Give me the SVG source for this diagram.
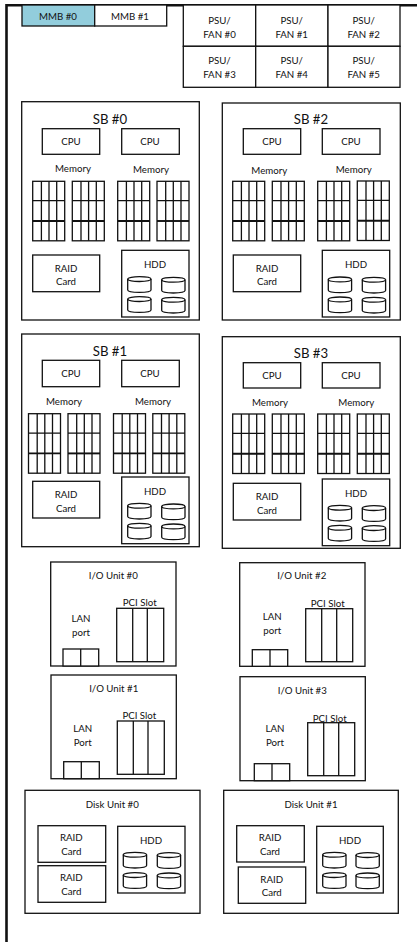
<svg xmlns="http://www.w3.org/2000/svg" width="417" height="942" viewBox="0 0 417 942">
<style>
rect,path{fill:#fff;stroke:#111;stroke-width:1.3}
.f{fill:none}
text{font-family:"Lato","Liberation Sans",sans-serif;font-size:9.7px;fill:#111;text-anchor:middle}
.h{font-size:13.2px}
.th{stroke-width:1.9;fill:none}
.th2{stroke-width:1.3;fill:none}
</style>
<defs>
<g id="mem">
<rect width="32" height="59.5"/>
<path class="th2" d="M8.7 0V59.5M16.3 0V59.5M24 0V59.5M0 19.4H32"/>
<path class="th" d="M0 39.7H32"/>
</g>
<g id="cyl">
<path d="M0 2.4C0 -.8 23.3 -.8 23.3 2.4V13.3C23.3 16.5 0 16.5 0 13.3Z"/>
<path class="f" d="M0 2.4C0 5.6 23.3 5.6 23.3 2.4"/>
</g>
</defs>
<rect width="417" height="942" style="fill:#fff;stroke:none"/>
<g id="chassis"><path class="f" d="M417 5.3H6.5V942" style="stroke-width:2.6"/></g>
<g id="mmb-0"><rect x="22" y="5" width="72.7" height="21" style="fill:#92cddc"/><text x="58" y="20">MMB #0</text></g>
<g id="mmb-1"><rect x="94.7" y="5" width="72" height="21"/><text x="130" y="20">MMB #1</text></g>
<g id="psu-0"><rect x="183.3" y="5" width="72.4" height="41.3"/><text x="219.5" y="23.5">PSU/</text><text x="219.5" y="37.5">FAN #0</text></g>
<g id="psu-1"><rect x="255.7" y="5" width="72.3" height="41.3"/><text x="291.7" y="23.5">PSU/</text><text x="291.7" y="37.5">FAN #1</text></g>
<g id="psu-2"><rect x="328" y="5" width="72" height="41.3"/><text x="363.7" y="23.5">PSU/</text><text x="363.7" y="37.5">FAN #2</text></g>
<g id="psu-3"><rect x="183.3" y="46.3" width="72.4" height="41"/><text x="219.5" y="64">PSU/</text><text x="219.5" y="78">FAN #3</text></g>
<g id="psu-4"><rect x="255.7" y="46.3" width="72.3" height="41"/><text x="291.7" y="64">PSU/</text><text x="291.7" y="78">FAN #4</text></g>
<g id="psu-5"><rect x="328" y="46.3" width="72" height="41"/><text x="363.7" y="64">PSU/</text><text x="363.7" y="78">FAN #5</text></g>

<g id="sb-0">
<rect x="21.7" y="101.7" width="177.6" height="218.3"/>
<text class="h" x="110" y="123.5">SB #0</text>
<rect x="42.3" y="128.7" width="57.4" height="25.6"/><text x="71" y="145">CPU</text>
<rect x="121.7" y="128.7" width="57.6" height="25.6"/><text x="150" y="145">CPU</text>
<text x="73" y="172">Memory</text><text x="151" y="173">Memory</text>
<use href="#mem" x="32.7" y="181.3"/><use href="#mem" x="72.3" y="181.3"/><use href="#mem" x="117.7" y="181.3"/><use href="#mem" x="157" y="181.3"/>
<rect x="32.7" y="255" width="67" height="36.7"/><text x="66" y="271.5">RAID</text><text x="66" y="285">Card</text>
<rect x="121.7" y="250.3" width="67.3" height="66.7"/><text x="155" y="267.5">HDD</text>
<use href="#cyl" x="127.7" y="276.7"/><use href="#cyl" x="161.7" y="277.3"/><use href="#cyl" x="127.7" y="296.7"/><use href="#cyl" x="161.7" y="297.3"/>
</g>

<g id="sb-2">
<rect x="222.3" y="103" width="178" height="217"/>
<text class="h" x="311" y="123.5">SB #2</text>
<rect x="243.3" y="128.7" width="57.4" height="25.6"/><text x="272" y="145">CPU</text>
<rect x="322.3" y="128.7" width="57.7" height="25.6"/><text x="351" y="145">CPU</text>
<text x="269.3" y="174">Memory</text><text x="353.7" y="173">Memory</text>
<use href="#mem" x="232.7" y="181.3"/><use href="#mem" x="272.3" y="181.3"/><use href="#mem" x="317.7" y="181.3"/><use href="#mem" x="357.3" y="181"/>
<rect x="233.3" y="255" width="67.4" height="36.7"/><text x="267" y="271.5">RAID</text><text x="267" y="285">Card</text>
<rect x="322.3" y="250.3" width="67.4" height="66.7"/><text x="356" y="267.5">HDD</text>
<use href="#cyl" x="328.3" y="277"/><use href="#cyl" x="362.3" y="277.3"/><use href="#cyl" x="328.3" y="297"/><use href="#cyl" x="362.3" y="297.3"/>
</g>

<g id="sb-1">
<rect x="21.7" y="334" width="177.6" height="212.7"/>
<text class="h" x="110" y="356">SB #1</text>
<rect x="42.3" y="360.3" width="57.4" height="26.4"/><text x="71" y="377">CPU</text>
<rect x="121.7" y="360.3" width="57.6" height="26.4"/><text x="150" y="377">CPU</text>
<text x="64" y="404.5">Memory</text><text x="153" y="404.5">Memory</text>
<use href="#mem" x="28.5" y="413.7"/><use href="#mem" x="68" y="413.7"/><use href="#mem" x="113.5" y="413.7"/><use href="#mem" x="152.8" y="413.7"/>
<rect x="32.7" y="481.3" width="67" height="36.7"/><text x="66" y="497.5">RAID</text><text x="66" y="511.5">Card</text>
<rect x="121.7" y="477" width="67.3" height="66.7"/><text x="155" y="494.5">HDD</text>
<use href="#cyl" x="127.7" y="503.3"/><use href="#cyl" x="161.7" y="504"/><use href="#cyl" x="127.7" y="523.3"/><use href="#cyl" x="161.7" y="524"/>
</g>

<g id="sb-3">
<rect x="222.3" y="336.7" width="178" height="211.6"/>
<text class="h" x="311" y="357.5">SB #3</text>
<rect x="243.3" y="362.7" width="57.4" height="25.3"/><text x="272" y="379">CPU</text>
<rect x="322.3" y="362.7" width="57.7" height="25.3"/><text x="351" y="379">CPU</text>
<text x="270" y="405.5">Memory</text><text x="356.3" y="405.5">Memory</text>
<use href="#mem" x="232.7" y="414"/><use href="#mem" x="272.3" y="414"/><use href="#mem" x="317.7" y="414"/><use href="#mem" x="357.3" y="414"/>
<rect x="233.3" y="483.3" width="67.4" height="36.7"/><text x="267" y="499.5">RAID</text><text x="267" y="513.5">Card</text>
<rect x="322.3" y="479" width="67.4" height="66.7"/><text x="356" y="496.5">HDD</text>
<use href="#cyl" x="328.3" y="505.3"/><use href="#cyl" x="362.3" y="505.7"/><use href="#cyl" x="328.3" y="525.3"/><use href="#cyl" x="362.3" y="525.7"/>
</g>

<g id="io-0">
<rect x="50.7" y="562" width="125.3" height="104"/>
<text x="113.3" y="579">I/O Unit #0</text>
<text x="139.7" y="606">PCI Slot</text>
<rect x="116.7" y="608.3" width="47" height="53.4"/><path class="f" d="M132.7 608.3V661.7M147.3 608.3V661.7"/>
<text x="81" y="622">LAN</text><text x="81" y="636">port</text>
<rect x="63" y="649" width="35.7" height="17"/><path class="f" d="M80.7 649V666"/>
</g>
<g id="io-1">
<rect x="51" y="675" width="125.3" height="103.7"/>
<text x="113.7" y="692">I/O Unit #1</text>
<text x="139.3" y="719">PCI Slot</text>
<rect x="117.3" y="721" width="47" height="53.3"/><path class="f" d="M133.3 721V774.3M148 721V774.3"/>
<text x="82.7" y="732">LAN</text><text x="82.7" y="746">Port</text>
<rect x="63.7" y="761.7" width="35.6" height="17"/><path class="f" d="M81.3 761.7V778.7"/>
</g>
<g id="io-2">
<rect x="239.7" y="562.7" width="125.3" height="103.6"/>
<text x="301.7" y="579">I/O Unit #2</text>
<text x="327.7" y="607">PCI Slot</text>
<rect x="305.7" y="608.7" width="47" height="53"/><path class="f" d="M321.7 608.7V661.7M336.7 608.7V661.7"/>
<text x="272.3" y="620">LAN</text><text x="272.3" y="634">port</text>
<rect x="252.3" y="649.7" width="35.4" height="16.6"/><path class="f" d="M270 649.7V666.3"/>
</g>
<g id="io-3">
<rect x="240" y="676.7" width="125.3" height="104"/>
<text x="302.3" y="693.5">I/O Unit #3</text>
<text x="329.7" y="722">PCI Slot</text>
<rect x="307.7" y="722.7" width="47" height="53"/><path class="f" d="M323.7 722.7V775.7M338.7 722.7V775.7"/>
<text x="275" y="732">LAN</text><text x="275" y="746">Port</text>
<rect x="254.3" y="763.7" width="35.4" height="17"/><path class="f" d="M272 763.7V780.7"/>
</g>

<g id="disk-0">
<rect x="25" y="790.3" width="175" height="123"/>
<text x="112.3" y="808">Disk Unit #0</text>
<rect x="38" y="825.7" width="67.7" height="36.6"/><text x="71.3" y="841">RAID</text><text x="71.3" y="855">Card</text>
<rect x="38" y="865.7" width="67.7" height="36.6"/><text x="71.3" y="881">RAID</text><text x="71.3" y="895">Card</text>
<rect x="117.7" y="826.3" width="67.3" height="66.7"/><text x="151" y="844">HDD</text>
<use href="#cyl" x="123.3" y="852.3"/><use href="#cyl" x="157.3" y="852.7"/><use href="#cyl" x="123.3" y="872.7"/><use href="#cyl" x="157.3" y="873"/>
</g>
<g id="disk-1">
<rect x="223.7" y="790.3" width="174.6" height="123"/>
<text x="311" y="808">Disk Unit #1</text>
<rect x="236.7" y="825.7" width="67.6" height="36.3"/><text x="270" y="841">RAID</text><text x="270" y="855">Card</text>
<rect x="238.3" y="867" width="67.4" height="36.3"/><text x="271.7" y="883">RAID</text><text x="271.7" y="896">Card</text>
<rect x="316.7" y="826.3" width="66.6" height="66.7"/><text x="350" y="844">HDD</text>
<use href="#cyl" x="322.7" y="852.3"/><use href="#cyl" x="356" y="852.7"/><use href="#cyl" x="322.7" y="872.7"/><use href="#cyl" x="356" y="873"/>
</g>
<g id="connectors"></g>
</svg>
